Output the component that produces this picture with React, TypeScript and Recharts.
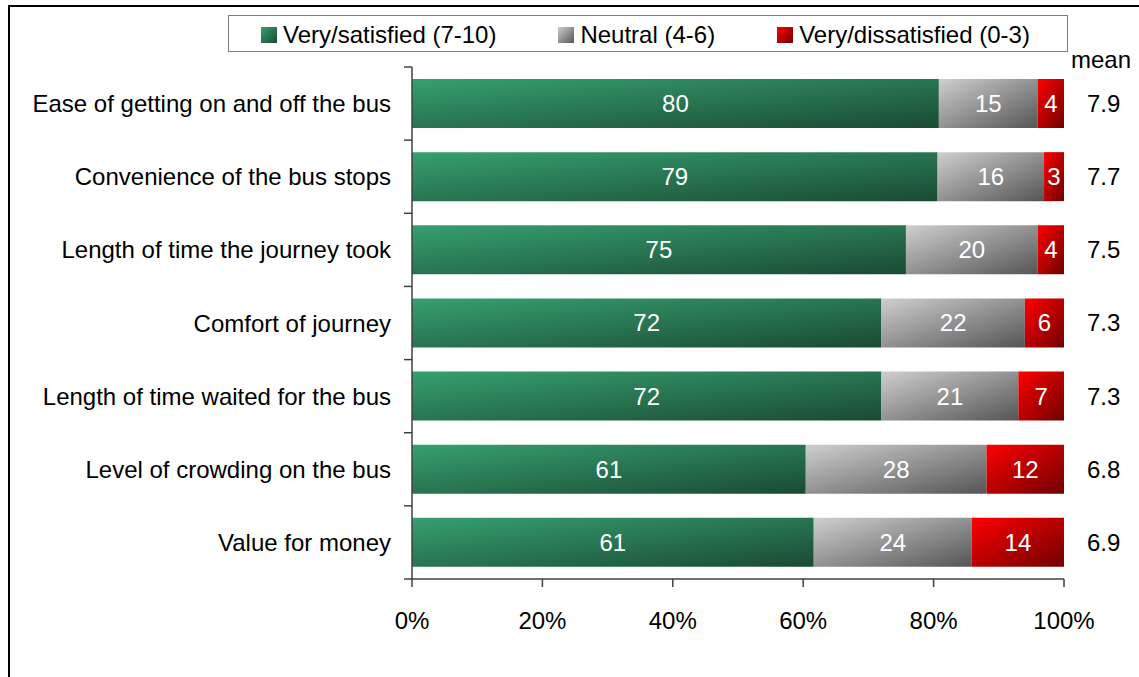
import React from 'react'
import { BarChart, Bar, XAxis, YAxis, LabelList } from 'recharts'

const categories = [
  'Ease of getting on and off the bus',
  'Convenience of the bus stops',
  'Length of time the journey took',
  'Comfort of journey',
  'Length of time waited for the bus',
  'Level of crowding on the bus',
  'Value for money',
]
const satisfied = [80, 79, 75, 72, 72, 61, 61]
const neutral = [15, 16, 20, 22, 21, 28, 24]
const dissatisfied = [4, 3, 4, 6, 7, 12, 14]
const means = [7.9, 7.7, 7.5, 7.3, 7.3, 6.8, 6.9]
const xTicks = [0, 0.2, 0.4, 0.6, 0.8, 1]

const data = categories.map((name, i) => ({
  name,
  satisfied: satisfied[i],
  neutral: neutral[i],
  dissatisfied: dissatisfied[i],
  mean: means[i],
}))

const FONT = '"Liberation Sans", Arial, sans-serif'
const AXIS = '#404040'
const BAND = 512 / categories.length

const legendItems = [
  { label: 'Very/satisfied (7-10)', from: '#36a06f', to: '#1a4a33' },
  { label: 'Neutral (4-6)', from: '#cfcfcf', to: '#555555' },
  { label: 'Very/dissatisfied (0-3)', from: '#ff0000', to: '#700000' },
]

const CategoryTick = (props: any) => {
  const { x, y, payload, index } = props
  const axisX = x + 21
  return (
    <g>
      <text x={x} y={y} dy="0.355em" textAnchor="end" fontSize={24} fill="#000">
        {payload.value}
      </text>
      <line x1={axisX - 8} x2={axisX} y1={y - BAND / 2} y2={y - BAND / 2} stroke={AXIS} strokeWidth={1.5} />
      {index === categories.length - 1 && (
        <line x1={axisX - 8} x2={axisX} y1={y + BAND / 2} y2={y + BAND / 2} stroke={AXIS} strokeWidth={1.5} />
      )}
    </g>
  )
}

export default function App() {
  return (
    <div
      style={{
        position: 'fixed',
        left: 0,
        top: 0,
        width: 1139,
        height: 677,
        background: '#fff',
        overflow: 'hidden',
        fontFamily: FONT,
      }}
    >
      <div
        style={{
          position: 'absolute',
          left: 8,
          top: 5,
          width: 1200,
          height: 700,
          borderLeft: '2px solid #000',
          borderTop: '2px solid #000',
        }}
      />
      <div style={{ position: 'absolute', left: 0, top: 0 }}>
        <BarChart
          width={1139}
          height={677}
          data={data}
          layout="vertical"
          stackOffset="expand"
          barCategoryGap={12}
          margin={{ top: 67, right: 75, bottom: 48, left: 12 }}
        >
          <defs>
            {legendItems.map((it, i) => (
              <linearGradient key={i} id={`grad${i}`} x1="0" y1="0" x2="1" y2="1">
                <stop offset="0%" stopColor={it.from} />
                <stop offset="100%" stopColor={it.to} />
              </linearGradient>
            ))}
          </defs>
          <XAxis
            type="number"
            domain={[0, 1]}
            ticks={xTicks}
            tickFormatter={(v: number) => `${Math.round(v * 100)}%`}
            height={50}
            tickSize={8}
            tickMargin={25}
            axisLine={{ stroke: AXIS, strokeWidth: 1.5 }}
            tickLine={{ stroke: AXIS, strokeWidth: 1.5 }}
            tick={{ fill: '#000', fontSize: 24 }}
          />
          <YAxis
            type="category"
            dataKey="name"
            width={400}
            tickSize={8}
            tickMargin={13}
            tickLine={false}
            axisLine={{ stroke: AXIS, strokeWidth: 1.5 }}
            tick={<CategoryTick />}
            interval={0}
          />
          <Bar dataKey="satisfied" stackId="a" fill="url(#grad0)" isAnimationActive={false}>
            <LabelList dataKey="satisfied" position="center" fill="#fff" fontSize={24} />
          </Bar>
          <Bar dataKey="neutral" stackId="a" fill="url(#grad1)" isAnimationActive={false}>
            <LabelList dataKey="neutral" position="center" fill="#fff" fontSize={24} />
          </Bar>
          <Bar dataKey="dissatisfied" stackId="a" fill="url(#grad2)" isAnimationActive={false}>
            <LabelList dataKey="dissatisfied" position="center" fill="#fff" fontSize={24} />
            <LabelList
              dataKey="mean"
              position="right"
              offset={23}
              fill="#000"
              fontSize={24}
              formatter={(v: any) => Number(v).toFixed(1)}
            />
          </Bar>
        </BarChart>
      </div>
      <div
        style={{
          position: 'absolute',
          left: 1071,
          top: 46,
          fontSize: 24,
          lineHeight: 'normal',
          color: '#000',
        }}
      >
        mean
      </div>
      <div
        style={{
          position: 'absolute',
          left: 228,
          top: 15,
          width: 840,
          height: 37,
          boxSizing: 'border-box',
          border: '1px solid #808080',
          display: 'flex',
          alignItems: 'center',
          paddingLeft: 32,
          paddingTop: 2,
          fontSize: 24,
          color: '#000',
        }}
      >
        {legendItems.map((it, i) => (
          <div key={i} style={{ display: 'flex', alignItems: 'center', marginLeft: i === 0 ? 0 : 62 }}>
            <span
              style={{
                display: 'inline-block',
                width: 16,
                height: 16,
                marginRight: 6,
                background: `linear-gradient(135deg, ${it.from}, ${it.to})`,
              }}
            />
            <span style={{ whiteSpace: 'nowrap' }}>{it.label}</span>
          </div>
        ))}
      </div>
    </div>
  )
}
